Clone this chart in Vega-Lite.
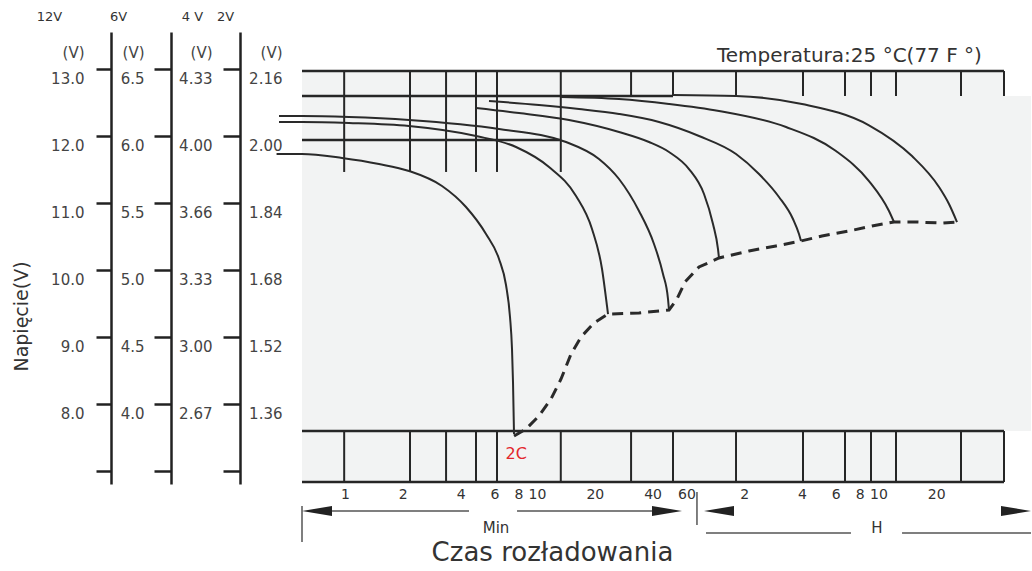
{
  "$schema": "https://vega.github.io/schema/vega-lite/v6.json",
  "padding": {"left": 12, "top": 10, "right": 0, "bottom": 2},
  "background": "white",
  "config": {"view": {"stroke": null}, "font": "DejaVu Sans", "axis": {"grid": false}},
  "spacing": 0,
  "bounds": "flush",
  "resolve": {"scale": {"x": "independent"}},
  "datasets": {
    "rects": [
      {"t": 0.597, "t2": 2706, "V": 12.97, "V2": 6.836},
      {"t": 0.597, "t2": 3741, "V": 12.597, "V2": 7.597}
    ],
    "vgrid": [
      {"t": 0.99, "V": 12.97, "V2": 11.463}, {"t": 2.18, "V": 12.97, "V2": 11.463}, {"t": 3.36, "V": 12.97, "V2": 11.463},
      {"t": 4.81, "V": 12.97, "V2": 11.463}, {"t": 6.19, "V": 12.97, "V2": 11.463}, {"t": 13.3, "V": 12.97, "V2": 11.463},
      {"t": 30.9, "V": 12.97, "V2": 12.597}, {"t": 51.1, "V": 12.97, "V2": 12.597}, {"t": 108.8, "V": 12.97, "V2": 12.597},
      {"t": 242.9, "V": 12.97, "V2": 12.597}, {"t": 401.9, "V": 12.97, "V2": 12.597}, {"t": 549, "V": 12.97, "V2": 12.597},
      {"t": 741, "V": 12.97, "V2": 12.597}, {"t": 1616, "V": 12.97, "V2": 12.597}, {"t": 2706, "V": 12.97, "V2": 12.597},
      {"t": 0.99, "V": 7.597, "V2": 6.836}, {"t": 2.18, "V": 7.597, "V2": 6.836}, {"t": 3.36, "V": 7.597, "V2": 6.836},
      {"t": 4.81, "V": 7.597, "V2": 6.836}, {"t": 6.19, "V": 7.597, "V2": 6.836}, {"t": 13.3, "V": 7.597, "V2": 6.836},
      {"t": 30.9, "V": 7.597, "V2": 6.836}, {"t": 51.1, "V": 7.597, "V2": 6.836}, {"t": 108.8, "V": 7.597, "V2": 6.836},
      {"t": 242.9, "V": 7.597, "V2": 6.836}, {"t": 401.9, "V": 7.597, "V2": 6.836}, {"t": 549, "V": 7.597, "V2": 6.836},
      {"t": 741, "V": 7.597, "V2": 6.836}, {"t": 1616, "V": 7.597, "V2": 6.836}, {"t": 2706, "V": 7.597, "V2": 6.836}
    ],
    "hgrid": [
      {"t": 0.597, "t2": 2706, "V": 12.97},
      {"t": 0.597, "t2": 51.1, "V": 12.597},
      {"t": 0.597, "t2": 13.3, "V": 11.94},
      {"t": 0.597, "t2": 2706, "V": 7.597},
      {"t": 0.597, "t2": 2706, "V": 6.836}
    ],
    "curves": [
      {"c": "2C", "t": 0.44, "V": 11.73}, {"c": "2C", "t": 0.597, "V": 11.731}, {"c": "2C", "t": 0.965, "V": 11.672},
      {"c": "2C", "t": 1.503, "V": 11.582}, {"c": "2C", "t": 2.154, "V": 11.478}, {"c": "2C", "t": 3.2, "V": 11.254},
      {"c": "2C", "t": 4.267, "V": 10.94}, {"c": "2C", "t": 5.425, "V": 10.537}, {"c": "2C", "t": 6.341, "V": 10.164},
      {"c": "2C", "t": 6.895, "V": 9.776}, {"c": "2C", "t": 7.234, "V": 9.299}, {"c": "2C", "t": 7.41, "V": 8.821},
      {"c": "2C", "t": 7.499, "V": 8.328}, {"c": "2C", "t": 7.59, "V": 7.552},
      {"c": "c2", "t": 0.453, "V": 12.209}, {"c": "c2", "t": 0.597, "V": 12.209}, {"c": "c2", "t": 1.049, "V": 12.194},
      {"c": "c2", "t": 2.154, "V": 12.149}, {"c": "c2", "t": 4.812, "V": 12.0}, {"c": "c2", "t": 7.775, "V": 11.836},
      {"c": "c2", "t": 11.55, "V": 11.537}, {"c": "c2", "t": 15.97, "V": 11.104}, {"c": "c2", "t": 19.34, "V": 10.612},
      {"c": "c2", "t": 21.81, "V": 10.015}, {"c": "c2", "t": 23.15, "V": 9.463}, {"c": "c2", "t": 23.43, "V": 9.343},
      {"c": "c3", "t": 0.453, "V": 12.299}, {"c": "c3", "t": 0.597, "V": 12.299}, {"c": "c3", "t": 1.049, "V": 12.284},
      {"c": "c3", "t": 2.154, "V": 12.239}, {"c": "c3", "t": 6.341, "V": 12.104}, {"c": "c3", "t": 14.16, "V": 11.91},
      {"c": "c3", "t": 21.03, "V": 11.657}, {"c": "c3", "t": 26.74, "V": 11.358}, {"c": "c3", "t": 33.98, "V": 10.881},
      {"c": "c3", "t": 40.68, "V": 10.388}, {"c": "c3", "t": 45.32, "V": 9.94}, {"c": "c3", "t": 48.12, "V": 9.567},
      {"c": "c3", "t": 48.7, "V": 9.403},
      {"c": "c4", "t": 4.812, "V": 12.418}, {"c": "c4", "t": 8.058, "V": 12.343}, {"c": "c4", "t": 14.68, "V": 12.239},
      {"c": "c4", "t": 26.74, "V": 12.06}, {"c": "c4", "t": 38.31, "V": 11.91}, {"c": "c4", "t": 48.7, "V": 11.761},
      {"c": "c4", "t": 61.89, "V": 11.507}, {"c": "c4", "t": 74.1, "V": 11.134}, {"c": "c4", "t": 82.54, "V": 10.687},
      {"c": "c4", "t": 87.64, "V": 10.313}, {"c": "c4", "t": 88.7, "V": 10.179},
      {"c": "c5", "t": 5.623, "V": 12.522}, {"c": "c5", "t": 10.24, "V": 12.463}, {"c": "c5", "t": 16.55, "V": 12.403},
      {"c": "c5", "t": 26.74, "V": 12.328}, {"c": "c5", "t": 43.2, "V": 12.209}, {"c": "c5", "t": 69.79, "V": 12.0},
      {"c": "c5", "t": 108.8, "V": 11.731}, {"c": "c5", "t": 143.3, "V": 11.433}, {"c": "c5", "t": 182.1, "V": 11.09},
      {"c": "c5", "t": 215.4, "V": 10.761}, {"c": "c5", "t": 231.5, "V": 10.537}, {"c": "c5", "t": 237.1, "V": 10.433},
      {"c": "c6", "t": 13.34, "V": 12.582}, {"c": "c6", "t": 26.74, "V": 12.552}, {"c": "c6", "t": 48.7, "V": 12.478},
      {"c": "c6", "t": 88.7, "V": 12.373}, {"c": "c6", "t": 198.2, "V": 12.134}, {"c": "c6", "t": 360.8, "V": 11.776},
      {"c": "c6", "t": 536, "V": 11.328}, {"c": "c6", "t": 681.3, "V": 10.881}, {"c": "c6", "t": 723.4, "V": 10.716},
      {"c": "c7", "t": 51.09, "V": 12.612}, {"c": "c7", "t": 108.8, "V": 12.597}, {"c": "c7", "t": 240, "V": 12.478},
      {"c": "c7", "t": 536, "V": 12.16}, {"c": "c7", "t": 897.9, "V": 11.7}, {"c": "c7", "t": 1241, "V": 11.239},
      {"c": "c7", "t": 1399, "V": 10.985}, {"c": "c7", "t": 1540, "V": 10.716}
    ],
    "endline": [
      {"t": 7.59, "V": 7.522}, {"t": 8.764, "V": 7.627}, {"t": 10.24, "V": 7.821}, {"t": 11.83, "V": 8.075},
      {"t": 13.34, "V": 8.373}, {"t": 15.04, "V": 8.746}, {"t": 16.95, "V": 9.0}, {"t": 19.81, "V": 9.209},
      {"t": 23.43, "V": 9.343}, {"t": 33.98, "V": 9.358}, {"t": 48.7, "V": 9.403}, {"t": 53.6, "V": 9.567},
      {"t": 58.99, "V": 9.821}, {"t": 69.79, "V": 10.045}, {"t": 88.7, "V": 10.179}, {"t": 127.1, "V": 10.284},
      {"t": 175.7, "V": 10.358}, {"t": 237.1, "V": 10.433}, {"t": 305, "V": 10.507}, {"t": 421.7, "V": 10.582},
      {"t": 555.6, "V": 10.657}, {"t": 723.4, "V": 10.716}, {"t": 941.9, "V": 10.716}, {"t": 1287, "V": 10.701},
      {"t": 1540, "V": 10.716}
    ],
    "notes": [
      {"t": 7.8, "V": 7.254, "txt": "2C"}
    ],
    "temp": [
      {"t": 86.6, "V": 13.19, "txt": "Temperatura:25  °C(77 F  °)"}
    ],
    "ticks": [
      {"V": 7}, {"V": 8}, {"V": 9}, {"V": 10}, {"V": 11}, {"V": 12}, {"V": 13}
    ],
    "alines": [
      {"t": 0.856, "t2": 4.425, "r": 4.5}, {"t": 7.87, "t2": 39.7, "r": 4.5},
      {"t": 75.9, "t2": 431.8, "r": 8.17}, {"t": 796.6, "t2": 3741, "r": 8.17}
    ],
    "bars": [
      {"t": 0.597, "r": 3.67, "r2": 9.67}, {"t": 68.1, "r": 1.33, "r2": 6.83}
    ],
    "headsL": [{"t": 0.597, "r": 4.5}, {"t": 74.1, "r": 4.5}],
    "headsR": [{"t": 56.9, "r": 4.5}, {"t": 3741, "r": 4.5}],
    "units": [{"t": 6.116, "r": 7.4, "txt": "Min"}, {"t": 590, "r": 7.4, "txt": "H"}]
  },
  "vconcat": [
    {
      "width": 729,
      "height": 452,
      "resolve": {"scale": {"y": "independent"}, "axis": {"y": "independent"}},
      "layer": [
        {
          "encoding": {
            "x": {
              "field": "t", "type": "quantitative",
              "scale": {"type": "log", "domain": [0.597, 3741], "nice": false},
              "axis": {
                "values": [1, 2, 4, 6, 8, 10, 20, 40, 60, 120, 240, 360, 480, 600, 1200],
                "labelExpr": "datum.value >= 120 ? format(datum.value / 60, 'd') : format(datum.value, 'd')",
                "domain": false, "ticks": false, "grid": false, "labelPadding": 3,
                "labelFontSize": 14, "labelColor": "#333", "labelOverlap": false, "labelBound": false,
                "labelFlush": false, "title": null
              }
            },
            "y": {
              "field": "V", "type": "quantitative",
              "scale": {"domain": [6.806, 13.552], "zero": false, "nice": false},
              "axis": {
                "orient": "left", "offset": 191, "values": [7, 8, 9, 10, 11, 12, 13, 13.4],
                "labelExpr": "datum.value < 7.5 ? '' : datum.value > 13.2 ? '(V)' : format(datum.value, '.1f')",
                "tickSize": 15, "tickWidth": 2.5, "tickColor": "#222",
                "tickOpacity": {"condition": {"test": "datum.value > 13.2", "value": 0}, "value": 1},
                "domainColor": "#222", "domainWidth": 2.5, "labelPadding": 12, "labelFontSize": 15,
                "labelColor": "#444", "labelOffset": 10, "labelOverlap": false, "labelBound": false,
                "grid": false, "title": "12V", "titleAngle": 0, "titleX": -62, "titleY": -16,
                "titleAlign": "center", "titleBaseline": "middle", "titleFontSize": 13,
                "titleFontWeight": "normal", "titleColor": "#333"
              }
            }
          },
          "layer": [
            {
              "data": {"name": "rects"},
              "mark": {"type": "rect", "fill": "#f2f3f3"},
              "encoding": {"x2": {"field": "t2"}, "y2": {"field": "V2"}}
            },
            {
              "data": {"name": "vgrid"},
              "mark": {"type": "rule", "color": "#262626", "strokeWidth": 2},
              "encoding": {"y2": {"field": "V2"}}
            },
            {
              "data": {"name": "hgrid"},
              "mark": {"type": "rule", "color": "#262626", "strokeWidth": 2.5},
              "encoding": {"x2": {"field": "t2"}}
            },
            {
              "data": {"name": "curves"},
              "mark": {"type": "line", "interpolate": "monotone", "color": "#2a2a2a", "strokeWidth": 2},
              "encoding": {"detail": {"field": "c", "type": "nominal"}}
            },
            {
              "data": {"name": "endline"},
              "mark": {"type": "line", "color": "#2a2a2a", "strokeWidth": 3, "strokeDash": [11, 7]},
              "encoding": {}
            },
            {
              "data": {"name": "notes"},
              "mark": {"type": "text", "color": "#e3262d", "fontSize": 16},
              "encoding": {"text": {"field": "txt"}}
            },
            {
              "data": {"name": "temp"},
              "mark": {"type": "text", "color": "#333", "fontSize": 20, "align": "left"},
              "encoding": {"text": {"field": "txt"}}
            }
          ]
        },
        {
          "data": {"name": "ticks"},
          "mark": {"type": "point", "opacity": 0},
          "encoding": {
            "y": {
              "field": "V", "type": "quantitative",
              "scale": {"domain": [6.806, 13.552], "zero": false, "nice": false},
              "axis": {
                "orient": "left", "offset": 131, "values": [7, 8, 9, 10, 11, 12, 13, 13.4],
                "labelExpr": "datum.value < 7.5 ? '' : datum.value > 13.2 ? '(V)' : format(datum.value / 2, '.1f')",
                "tickSize": 17, "tickWidth": 2.5, "tickColor": "#222",
                "tickOpacity": {"condition": {"test": "datum.value > 13.2", "value": 0}, "value": 1},
                "domainColor": "#222", "domainWidth": 2.5, "labelPadding": 10, "labelFontSize": 15,
                "labelColor": "#444", "labelOffset": 10, "labelOverlap": false, "labelBound": false,
                "grid": false, "title": "6V", "titleAngle": 0, "titleX": -53, "titleY": -16,
                "titleAlign": "center", "titleBaseline": "middle", "titleFontSize": 13,
                "titleFontWeight": "normal", "titleColor": "#333"
              }
            }
          }
        },
        {
          "data": {"name": "ticks"},
          "mark": {"type": "point", "opacity": 0},
          "encoding": {
            "y": {
              "field": "V", "type": "quantitative",
              "scale": {"domain": [6.806, 13.552], "zero": false, "nice": false},
              "axis": {
                "orient": "left", "offset": 62, "values": [7, 8, 9, 10, 11, 12, 13, 13.4],
                "labelExpr": "datum.value < 7.5 ? '' : datum.value > 13.2 ? '(V)' : datum.value == 8 ? '2.67' : format(floor(datum.value * 100 / 3) / 100, '.2f')",
                "tickSize": 17, "tickWidth": 2.5, "tickColor": "#222",
                "tickOpacity": {"condition": {"test": "datum.value > 13.2", "value": 0}, "value": 1},
                "domainColor": "#222", "domainWidth": 2.5, "labelPadding": 11, "labelFontSize": 15,
                "labelColor": "#444", "labelOffset": 10, "labelOverlap": false, "labelBound": false,
                "grid": false, "title": "4 V", "titleAngle": 0, "titleX": -48, "titleY": -16,
                "titleAlign": "center", "titleBaseline": "middle", "titleFontSize": 13,
                "titleFontWeight": "normal", "titleColor": "#333"
              }
            }
          }
        },
        {
          "data": {"name": "ticks"},
          "mark": {"type": "point", "opacity": 0},
          "encoding": {
            "y": {
              "field": "V", "type": "quantitative",
              "scale": {"domain": [6.806, 13.552], "zero": false, "nice": false},
              "axis": {
                "orient": "left", "offset": 20, "values": [8, 9, 10, 11, 12, 13, 13.4],
                "labelExpr": "datum.value > 13.2 ? '(V)' : format(2 + (datum.value - 12) * 0.16, '.2f')",
                "domain": false, "ticks": false, "tickSize": 0, "labelPadding": 0, "labelFontSize": 15,
                "labelColor": "#444", "labelOffset": 10, "labelOverlap": false, "labelBound": false,
                "grid": false, "title": "2V", "titleAngle": 0, "titleX": -57, "titleY": -16,
                "titleAlign": "center", "titleBaseline": "middle", "titleFontSize": 13,
                "titleFontWeight": "normal", "titleColor": "#333"
              }
            }
          }
        },
        {
          "data": {"name": "ticks"},
          "mark": {"type": "point", "opacity": 0},
          "encoding": {
            "y": {
              "field": "V", "type": "quantitative",
              "scale": {"domain": [6.806, 13.552], "zero": false, "nice": false},
              "axis": {
                "orient": "left", "offset": 0, "domain": false, "ticks": false, "labels": false,
                "grid": false, "title": "Napięcie(V)", "titleAngle": -90, "titleX": -281, "titleY": 284,
                "titleAlign": "center", "titleBaseline": "middle", "titleFontSize": 19,
                "titleFontWeight": "normal", "titleColor": "#333"
              }
            }
          }
        }
      ]
    },
    {
      "width": 729,
      "height": 60,
      "encoding": {
        "x": {
          "field": "t", "type": "quantitative",
          "scale": {"type": "log", "domain": [0.597, 3741], "nice": false},
          "axis": {
            "domain": false, "ticks": false, "labels": false, "grid": false,
            "title": "Czas rozładowania", "titleFontSize": 26, "titleFontWeight": "normal",
            "titleColor": "#333", "titleX": 250, "titleY": 8, "titleBaseline": "middle", "titleAlign": "center"
          }
        },
        "y": {
          "field": "r", "type": "quantitative",
          "scale": {"domain": [0, 10], "reverse": true, "nice": false, "zero": false},
          "axis": null
        }
      },
      "layer": [
        {
          "data": {"name": "alines"},
          "mark": {"type": "rule", "color": "#555", "strokeWidth": 1.5},
          "encoding": {"x2": {"field": "t2"}}
        },
        {
          "data": {"name": "bars"},
          "mark": {"type": "rule", "color": "#555", "strokeWidth": 1.5},
          "encoding": {"y2": {"field": "r2"}}
        },
        {
          "data": {"name": "headsL"},
          "mark": {"type": "point", "shape": "M0,0L4,-0.67L4,0.67Z", "size": 225, "filled": true, "color": "#222", "opacity": 1}
        },
        {
          "data": {"name": "headsR"},
          "mark": {"type": "point", "shape": "M0,0L-4,-0.67L-4,0.67Z", "size": 225, "filled": true, "color": "#222", "opacity": 1}
        },
        {
          "data": {"name": "units"},
          "mark": {"type": "text", "color": "#333", "fontSize": 15},
          "encoding": {"text": {"field": "txt"}}
        }
      ]
    }
  ]
}
